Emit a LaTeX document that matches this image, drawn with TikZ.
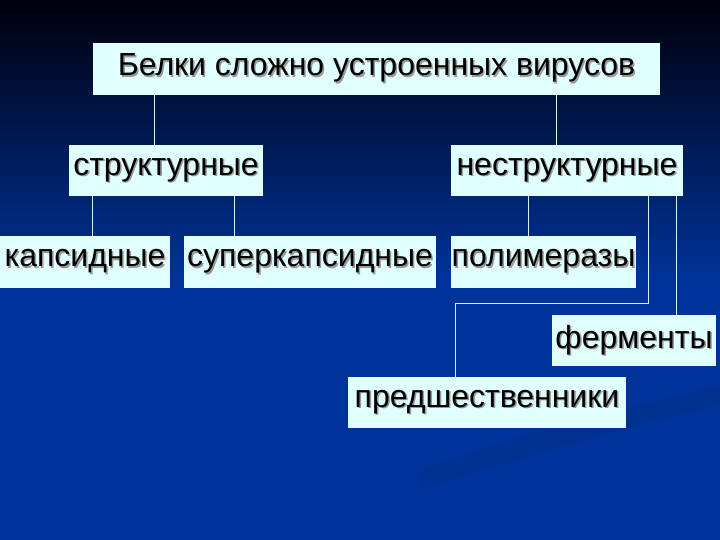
\documentclass[tikz,border=0pt]{standalone}
\usepackage{fontspec}
\setmainfont{Liberation Sans}
\definecolor{bgtop}{HTML}{00000C}
\definecolor{bgblue}{HTML}{00339A}
\definecolor{boxfill}{HTML}{E0FFFF}
\newcommand\shadowtxt[1]{\makebox[0pt][l]{\hspace{1.5pt}\raisebox{-1.5pt}{\color{black!40}#1}}#1}
\begin{document}
\begin{tikzpicture}[x=1pt,y=-1pt,
  box/.style={fill=boxfill,draw=none,inner sep=0pt,text=black,
    font=\fontsize{32}{38}\selectfont},
  conn/.style={draw=white!85!cyan,line width=0.8pt}]
\useasboundingbox (0,0) rectangle (720,540);
\shade[top color=bgtop,bottom color=bgblue] (0,0) rectangle (720,280);
\fill[bgblue] (0,279) rectangle (720,540);
\fill[bgblue!85!black,opacity=0.35] (420,470) .. controls (560,420) and (660,400) .. (720,385) -- (720,405) .. controls (660,420) and (560,445) .. (420,490) -- cycle;
% nodes
\node[box,minimum width=567,minimum height=52] (title) at (376.5,69) {\shadowtxt{Белки сложно устроенных вирусов}};
\node[box,minimum width=194,minimum height=51] (str) at (166,170.5) {\shadowtxt{структурные}};
\node[box,minimum width=232,minimum height=51] (nstr) at (567,170.5) {\shadowtxt{неструктурные}};
\node[box,minimum width=170,minimum height=52] (kaps) at (85,262) {\shadowtxt{капсидные}};
\node[box,minimum width=252,minimum height=52] (skaps) at (310,262) {\shadowtxt{суперкапсидные}};
\node[box,minimum width=185,minimum height=52] (pol) at (543.5,262) {\shadowtxt{полимеразы}};
\node[box,minimum width=164,minimum height=51] (ferm) at (634,340.5) {\shadowtxt{ферменты}};
\node[box,minimum width=278,minimum height=51] (pred) at (487,402.5) {\shadowtxt{предшественники}};
% connectors
\coordinate (t1) at ([xshift=62pt]title.south west);
\coordinate (t2) at ([xshift=464pt]title.south west);
\coordinate (s1) at ([xshift=24pt]str.south west);
\coordinate (s2) at ([xshift=166pt]str.south west);
\coordinate (n1) at ([xshift=78pt]nstr.south west);
\coordinate (n2) at ([xshift=198pt]nstr.south west);
\coordinate (n3) at ([xshift=226pt]nstr.south west);
\coordinate (p1) at ([xshift=108pt]pred.north west);
\coordinate (bend) at (0,303);
\draw[conn] (t1) -- (t1 |- str.north);
\draw[conn] (t2) -- (t2 |- nstr.north);
\draw[conn] (s1) -- (s1 |- kaps.north);
\draw[conn] (s2) -- (s2 |- skaps.north);
\draw[conn] (n1) -- (n1 |- pol.north);
\draw[conn] (n2) -- (n2 |- bend) -- (p1 |- bend) -- (p1);
\draw[conn] (n3) -- (n3 |- ferm.north);
\end{tikzpicture}
\end{document}
